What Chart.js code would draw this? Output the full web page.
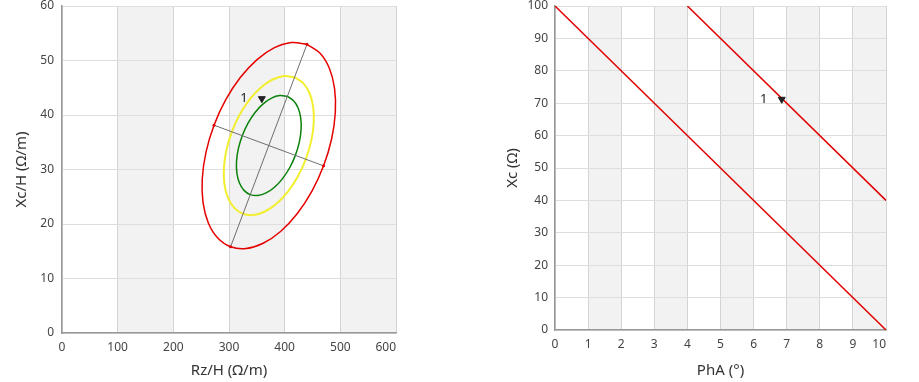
<!DOCTYPE html>
<html>
<head>
<meta charset="utf-8">
<script src="https://cdn.jsdelivr.net/npm/chart.js@4.4.1/dist/chart.umd.min.js"></script>
<style>
html, body { margin: 0; padding: 0; background: #fff; }
#wrap { position: relative; width: 919px; height: 382px; }
#leftChart { position: absolute; left: 0; top: 0; }
#rightChart { position: absolute; left: 490px; top: 0; }
</style>
</head>
<body>
<div id="wrap">
  <canvas id="leftChart" width="420" height="382"></canvas>
  <canvas id="rightChart" width="429" height="382"></canvas>
</div>
<script>
// ---- left chart: Rz/H vs Xc/H ----
const redRz = [440.1, 463.2, 480.1, 489.6, 491.0, 484.3, 469.9, 448.8, 422.4, 392.6, 361.3, 330.7,
  302.9, 279.8, 262.9, 253.4, 252.0, 258.7, 273.1, 294.2, 320.6, 350.4, 381.7, 412.3, 440.1];
const redXc = [52.97, 51.37, 48.62, 44.89, 40.46, 35.60, 30.67, 25.99, 21.89, 18.63, 16.46, 15.50,
  15.83, 17.43, 20.19, 23.91, 28.35, 33.20, 38.13, 42.81, 46.92, 50.17, 52.35, 53.31, 52.97];

const yellowRz = [417.8, 433.4, 444.8, 451.2, 452.2, 447.6, 437.9, 423.7, 405.9, 385.7, 364.6, 344.0,
  325.2, 309.6, 298.2, 291.8, 290.9, 295.4, 305.1, 319.3, 337.2, 357.3, 378.4, 399.0, 417.8];
const yellowXc = [46.93, 45.85, 43.99, 41.48, 38.48, 35.21, 31.88, 28.72, 25.96, 23.76, 22.29, 21.65,
  21.87, 22.95, 24.81, 27.32, 30.32, 33.59, 36.92, 40.08, 42.85, 45.04, 46.51, 47.15, 46.93];

const greenRz = [404.8, 416.0, 424.2, 428.8, 429.5, 426.2, 419.2, 409.0, 396.2, 381.7, 366.6, 351.7,
  338.2, 327.0, 318.8, 314.2, 313.5, 316.8, 323.8, 334.0, 346.8, 361.3, 376.5, 391.3, 404.8];
const greenXc = [43.41, 42.63, 41.30, 39.49, 37.34, 34.98, 32.59, 30.32, 28.33, 26.75, 25.70, 25.23,
  25.39, 26.17, 27.51, 29.31, 31.46, 33.82, 36.21, 38.48, 40.47, 42.05, 43.11, 43.57, 43.41];

const majorRz = [302.9, 440.1];
const majorXc = [15.83, 52.97];
const minorRz = [273.1, 469.9];
const minorXc = [38.13, 30.67];

const markerRz = [359];
const markerXc = [43.0];

// ---- right chart: PhA vs Xc ----
const lowPhA = [0, 10];
const lowXc = [100, 0];
const highPhA = [4, 10];
const highXc = [100, 40];

const markerPhA = [6.85];
const markerXcR = [71.2];

const markerText = '1';

const pts = (xs, ys) => xs.map((x, i) => ({ x: x, y: ys[i] }));

const tickFont = { family: 'Noto Sans', size: 12, lineHeight: 1 };
const titleFont = { family: 'Noto Sans', size: 15, lineHeight: 1.2 };

// last x label is pushed left so it ends at the plot edge
function lastInner(value, index, ticks) {
  const s = String(value);
  return index === ticks.length - 1 ? s + '\u2007'.repeat(s.length) : s;
}

// grey bands between every other x tick
const bandPlugin = {
  id: 'bands',
  beforeDraw(chart) {
    const { ctx, chartArea: a, scales: { x } } = chart;
    ctx.save();
    ctx.fillStyle = '#f2f2f2';
    for (let i = 1; i < x.ticks.length - 1; i += 2) {
      const x0 = x.getPixelForValue(x.ticks[i].value);
      const x1 = x.getPixelForValue(x.ticks[i + 1].value);
      ctx.fillRect(x0, a.top, x1 - x0, a.bottom - a.top);
    }
    ctx.restore();
  }
};

// the "1" next to the marker
const markerLabel = {
  id: 'markerLabel',
  afterDatasetsDraw(chart) {
    const p = chart.getDatasetMeta(0).data[0];
    const ctx = chart.ctx;
    ctx.save();
    ctx.font = '13px "Noto Sans"';
    ctx.fillStyle = '#222';
    ctx.textAlign = 'center';
    ctx.textBaseline = 'middle';
    ctx.fillText(markerText, p.x - 18, p.y);
    ctx.restore();
  }
};

function markerSet(data) {
  return {
    label: 'marker',
    data: data,
    showLine: false,
    pointStyle: 'triangle',
    rotation: 180,
    pointRadius: 4,
    pointBackgroundColor: '#222',
    pointBorderColor: '#222',
    pointBorderWidth: 1
  };
}

function lineSet(label, data, color, width, tension) {
  return {
    label: label,
    data: data,
    showLine: true,
    borderColor: color,
    borderWidth: width,
    pointRadius: 0,
    tension: tension,
    fill: false
  };
}

function axisSet(label, data) {
  return Object.assign(lineSet(label, data, '#6e6e6e', 1, 0), {
    pointRadius: 1.5,
    pointBackgroundColor: '#e00000',
    pointBorderWidth: 0
  });
}

function axisOpts(min, max, step, title, tPad, size, isX, tickPad) {
  const o = {
    type: 'linear',
    min: min,
    max: max,
    ticks: { stepSize: step, autoSkip: false, maxRotation: 0, padding: tickPad, color: '#444', font: tickFont },
    grid: { color: isX ? '#d4d4d4' : '#dedede', drawTicks: false },
    border: { color: '#999', width: 1.5 },
    title: { display: true, text: title, color: '#333', font: titleFont, padding: tPad }
  };
  if (isX) {
    o.ticks.callback = lastInner;
    o.afterFit = s => { s.height = size; s.paddingLeft = 0; s.paddingRight = 0; };
  } else {
    o.afterFit = s => { s.width = size; s.paddingTop = 0; s.paddingBottom = 0; };
  }
  return o;
}

const common = {
  responsive: false,
  animation: false,
  devicePixelRatio: 1,
  plugins: { legend: { display: false }, tooltip: { enabled: false } }
};

new Chart(document.getElementById('leftChart').getContext('2d'), {
  type: 'scatter',
  data: {
    datasets: [
      markerSet(pts(markerRz, markerXc)),
      axisSet('major', pts(majorRz, majorXc)),
      axisSet('minor', pts(minorRz, minorXc)),
      lineSet('green', pts(greenRz, greenXc), '#0a820a', 1.5, 0.34),
      lineSet('yellow', pts(yellowRz, yellowXc), '#f2ee30', 2, 0.34),
      lineSet('red', pts(redRz, redXc), '#e60000', 1.5, 0.34)
    ]
  },
  options: Object.assign({}, common, {
    layout: { padding: { left: 0, right: 24, top: 6, bottom: 0 } },
    scales: {
      x: axisOpts(0, 600, 100, 'Rz/H (Ω/m)', { top: 0, bottom: 2 }, 49, true, 9),
      y: axisOpts(0, 60, 10, 'Xc/H (Ω/m)', { top: 13, bottom: 0 }, 62, false, 8)
    }
  }),
  plugins: [bandPlugin, markerLabel]
});

new Chart(document.getElementById('rightChart').getContext('2d'), {
  type: 'scatter',
  data: {
    datasets: [
      markerSet(pts(markerPhA, markerXcR)),
      lineSet('high', pts(highPhA, highXc), '#e00000', 1.5, 0),
      lineSet('low', pts(lowPhA, lowXc), '#e00000', 1.5, 0)
    ]
  },
  options: Object.assign({}, common, {
    layout: { padding: { left: 0, right: 33, top: 6, bottom: 0 } },
    scales: {
      x: axisOpts(0, 10, 1, 'PhA (°)', { top: 0, bottom: 2 }, 52, true, 9),
      y: axisOpts(0, 100, 10, 'Xc (Ω)', { top: 14, bottom: 0 }, 65, false, 7)
    }
  }),
  plugins: [bandPlugin, markerLabel]
});
</script>
</body>
</html>
